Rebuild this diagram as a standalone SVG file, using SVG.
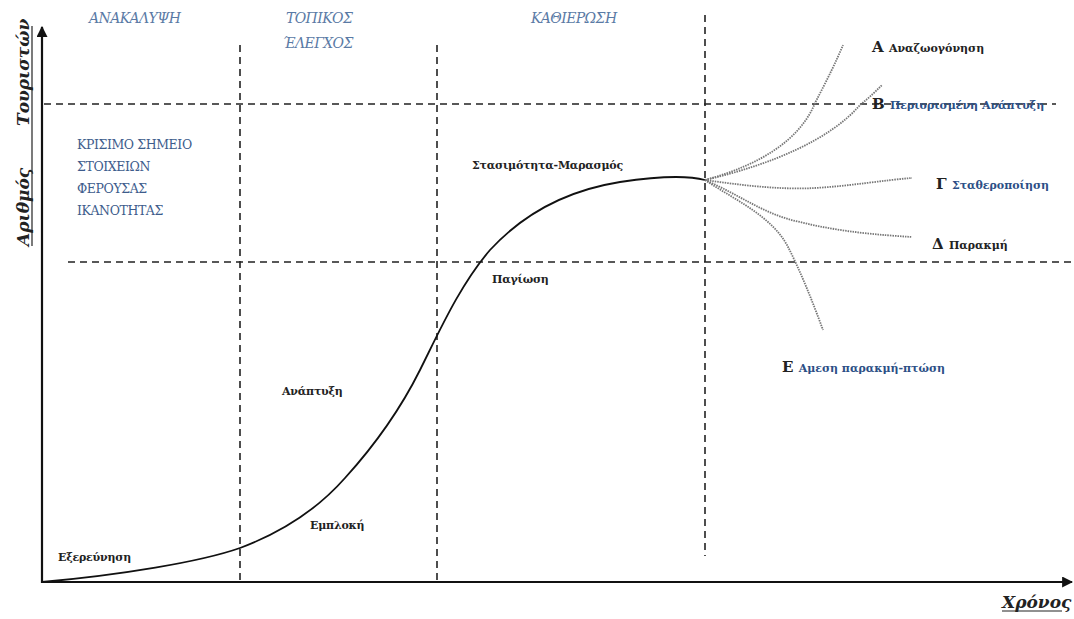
<svg xmlns="http://www.w3.org/2000/svg" width="1074" height="619" viewBox="0 0 1074 619">
<defs>
<style>
.axis{stroke:#111;stroke-width:2.2;fill:none}
.dash{stroke:#222;stroke-width:1.6;stroke-dasharray:7,5;fill:none}
.curve{stroke:#111;stroke-width:1.8;fill:none}
.branch{stroke:#777;stroke-width:1.8;stroke-dasharray:1.5,1;fill:none}
text{font-family:"DejaVu Serif","Liberation Serif",serif}
.phase{font-style:italic;font-size:14px;fill:#5a7aa5;letter-spacing:-0.6px}
.crit{font-size:12.5px;fill:#3d5c8c;letter-spacing:-0.4px}
.stage{font-weight:bold;font-size:11px;fill:#222;letter-spacing:-0.2px}
.big{font-weight:bold;font-size:15px;fill:#222}
.small{font-size:11px}
.blue{fill:#2c4f86}
.axlab{font-style:italic;font-weight:bold;font-size:17px;fill:#222}
</style>
<marker id="arr" viewBox="0 0 10 10" refX="9" refY="5" markerWidth="5" markerHeight="5" orient="auto" markerUnits="strokeWidth">
<path d="M0,0 L10,5 L0,10 z" fill="#111"/>
</marker>
</defs>
<rect width="1074" height="619" fill="#fff"/>
<g id="grid">
<line class="dash" x1="240" y1="45" x2="240" y2="582"/>
<line class="dash" x1="437" y1="45" x2="437" y2="582"/>
<line class="dash" x1="705" y1="15" x2="705" y2="556"/>
<line class="dash" x1="44" y1="104" x2="1056" y2="104"/>
<line class="dash" x1="68" y1="262" x2="1074" y2="262"/>
</g>
<g id="axes">
<line class="axis" x1="42" y1="583" x2="42" y2="27" marker-end="url(#arr)"/>
<line class="axis" x1="41" y1="582" x2="1072" y2="582" marker-end="url(#arr)"/>
<text class="axlab" transform="translate(29,246) rotate(-90)">Αριθμός</text>
<text class="axlab" transform="translate(29,126) rotate(-90)">Τουριστών</text>
<line x1="32" y1="246" x2="32" y2="26" stroke="#222" stroke-width="1.2"/>
<text class="axlab" x="1002" y="608">Χρόνος</text>
<line x1="1002" y1="611" x2="1062" y2="611" stroke="#222" stroke-width="1.2"/>
</g>
<g id="connectors">
<path id="main-curve" class="curve" d="M42,582 C120,575 200,562 240,548 C280,533 315,512 345,478 C375,445 400,410 420,370 C440,330 460,285 490,250 C525,212 570,190 620,182 C660,176 690,176 705,180"/>
<path id="branch-A" class="branch" d="M705,180 C760,165 800,140 815,103 C828,78 836,62 843,45"/>
<path id="branch-B" class="branch" d="M705,180 C770,165 830,140 860,105 C870,97 876,91 882,85"/>
<path id="branch-G" class="branch" d="M705,180 C740,185 780,190 815,188 C850,186 885,180 912,178"/>
<path id="branch-D" class="branch" d="M705,180 C740,195 765,215 800,222 C840,232 880,235 912,237"/>
<path id="branch-E" class="branch" d="M705,180 C735,200 770,215 787,245 C800,270 812,300 823,330"/>
</g>
<g id="phase-discovery"><text class="phase" x="89" y="23">ΑΝΑΚΑΛΥΨΗ</text></g>
<g id="phase-local"><text class="phase" x="286" y="23">ΤΟΠΙΚΟΣ</text><text class="phase" x="283" y="48">ΈΛΕΓΧΟΣ</text></g>
<g id="phase-establish"><text class="phase" x="531" y="23">ΚΑΘΙΕΡΩΣΗ</text></g>
<g id="critical-point">
<text class="crit" x="77" y="149">ΚΡΙΣΙΜΟ ΣΗΜΕΙΟ</text>
<text class="crit" x="77" y="171">ΣΤΟΙΧΕΙΩΝ</text>
<text class="crit" x="77" y="193">ΦΕΡΟΥΣΑΣ</text>
<text class="crit" x="77" y="215">ΙΚΑΝΟΤΗΤΑΣ</text>
</g>
<g id="stage-exploration"><text class="stage" x="58" y="561">Εξερεύνηση</text></g>
<g id="stage-involvement"><text class="stage" x="310" y="529">Εμπλοκή</text></g>
<g id="stage-development"><text class="stage" x="282" y="395">Ανάπτυξη</text></g>
<g id="stage-consolidation"><text class="stage" x="492" y="283">Παγίωση</text></g>
<g id="stage-stagnation"><text class="stage" x="472" y="169">Στασιμότητα-Μαρασμός</text></g>
<g id="label-A"><text class="big" x="872" y="52">Α <tspan class="small">Αναζωογόνηση</tspan></text></g>
<g id="label-B"><text class="big" x="872" y="109">Β <tspan class="blue small">Περιορισμένη Ανάπτυξη</tspan></text></g>
<g id="label-G"><text class="big" x="936" y="189">Γ <tspan class="blue small">Σταθεροποίηση</tspan></text></g>
<g id="label-D"><text class="big" x="932" y="249">Δ <tspan class="small">Παρακμή</tspan></text></g>
<g id="label-E"><text class="big" x="782" y="372">Ε <tspan class="blue small">Αμεση παρακμή-πτώση</tspan></text></g>
</svg>
